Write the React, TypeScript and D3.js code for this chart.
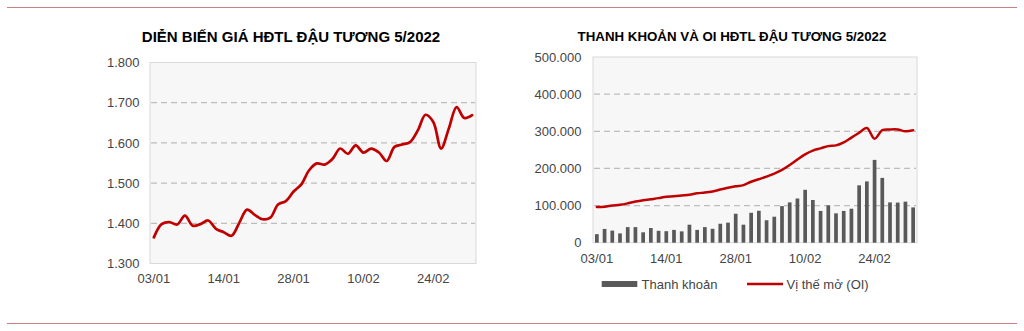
import React from "react";
import * as d3 from "d3";

const DATES = [
  "03/01","04/01","05/01","06/01","07/01","10/01","11/01","12/01","13/01","14/01",
  "18/01","19/01","20/01","21/01","24/01","25/01","26/01","27/01","28/01","31/01",
  "01/02","02/02","03/02","04/02","07/02","08/02","09/02","10/02","11/02","14/02",
  "15/02","16/02","17/02","18/02","22/02","23/02","24/02","25/02","28/02","01/03",
  "02/03","03/03",
];
const X_TICKS = ["03/01", "14/01", "28/01", "10/02", "24/02"];

const PRICE = [
  1365, 1398, 1403, 1397, 1419, 1394, 1398, 1407, 1386, 1378,
  1369, 1401, 1434, 1421, 1410, 1414, 1447, 1455, 1479, 1497,
  1532, 1549, 1546, 1560, 1586, 1573, 1594, 1576, 1586, 1576,
  1555, 1590, 1596, 1602, 1631, 1670, 1652, 1586, 1636, 1689,
  1662, 1669,
];
const PRICE_TICKS = [1300, 1400, 1500, 1600, 1700, 1800];

const VOLUME = [
  23000, 37000, 32600, 25000, 42000, 42000, 28000, 39500, 32000, 31000,
  34500, 30500, 48500, 34500, 42000, 37500, 51000, 54000, 78000, 48500,
  80500, 86000, 60500, 70000, 98500, 108500, 119000, 142500, 115000, 85500,
  100500, 79000, 85500, 91500, 154500, 165000, 223000, 174500, 108500, 108000,
  110500, 95000,
];
const OI = [
  96000, 97000, 100000, 102000, 106000, 111000, 114000, 117000, 120000, 124000,
  125000, 127000, 129000, 133000, 135000, 138000, 143000, 148000, 152000, 155000,
  164000, 171000, 178000, 186000, 196000, 209000, 224000, 238000, 248000, 254000,
  260000, 262000, 270000, 283000, 296000, 309000, 280000, 303000, 305000, 305000,
  300000, 303000,
];
const VOL_TICKS = [0, 100000, 200000, 300000, 400000, 500000];

const TITLE_LEFT = "DIỄN BIẾN GIÁ HĐTL ĐẬU TƯƠNG 5/2022";
const TITLE_RIGHT = "THANH KHOẢN VÀ OI HĐTL ĐẬU TƯƠNG 5/2022";
const LEGEND = ["Thanh khoản", "Vị thế mở (OI)"];

const FONT = "'Liberation Sans', Arial, sans-serif";
const RED = "#c00000";
const BAR = "#595959";
const TXT = "#454545";
const GRID = "#bdbdbd";
const RULE = "#c98080";

const vn = d3.formatLocale({ decimal: ",", thousands: ".", grouping: [3], currency: ["", ""] });
const fmt = vn.format(",d");

export default function App() {
  // Left chart
  const L = { x0: 150, x1: 476, y0: 62.5, y1: 263.5 };
  const lx = d3.scalePoint<string>().domain(DATES).range([L.x0, L.x1]).padding(0.5);
  const ly = d3.scaleLinear().domain([1300, 1800]).range([L.y1, L.y0]);
  const priceLine = d3
    .line<number>()
    .x((_, i) => lx(DATES[i]) as number)
    .y((d) => ly(d))
    .curve(d3.curveCatmullRom.alpha(0.5))(PRICE) as string;

  // Right chart
  const R = { x0: 593, x1: 917, y0: 57, y1: 242.7 };
  const rx = d3.scalePoint<string>().domain(DATES).range([R.x0, R.x1]).padding(0.5);
  const rb = d3.scaleBand<string>().domain(DATES).range([R.x0, R.x1]).paddingInner(0.52).paddingOuter(0.26);
  const ry = d3.scaleLinear().domain([0, 500000]).range([R.y1, R.y0]);
  const oiLine = d3
    .line<number>()
    .x((_, i) => rx(DATES[i]) as number)
    .y((d) => ry(d))
    .curve(d3.curveCatmullRom.alpha(0.5))(OI) as string;

  return (
    <svg
      width={1024}
      height={331}
      style={{ position: "absolute", left: 0, top: 0, background: "#fff" }}
      fontFamily={FONT}
    >
      <rect x={0} y={0} width={1024} height={331} fill="#fff" />
      <line x1={7} x2={1017} y1={7.5} y2={7.5} stroke={RULE} strokeWidth={1} />
      <line x1={7} x2={1017} y1={323.5} y2={323.5} stroke={RULE} strokeWidth={1} />

      {/* LEFT */}
      <text x={291} y={41.5} textAnchor="middle" fontSize={15} fontWeight="bold" fill="#000">
        {TITLE_LEFT}
      </text>
      <rect x={L.x0} y={L.y0} width={L.x1 - L.x0} height={L.y1 - L.y0} fill="#f7f7f7" stroke="#d9d9d9" strokeWidth={1} />
      {PRICE_TICKS.map((t) => (
        <g key={"lt" + t}>
          {t > 1300 && t < 1800 && (
            <line x1={L.x0 + 1} x2={L.x1 - 1} y1={ly(t)} y2={ly(t)} stroke={GRID} strokeWidth={1.3} strokeDasharray="6,4" />
          )}
          <text x={139.5} y={ly(t)} dy="0.36em" textAnchor="end" fontSize={13} fill={TXT}>
            {fmt(t)}
          </text>
        </g>
      ))}
      {X_TICKS.map((d) => (
        <text key={"lx" + d} x={lx(d)} y={283} textAnchor="middle" fontSize={13} fill={TXT}>
          {d}
        </text>
      ))}
      <path d={priceLine} fill="none" stroke={RED} strokeWidth={2.7} strokeLinejoin="round" strokeLinecap="round" />

      {/* RIGHT */}
      <text x={732} y={40.7} textAnchor="middle" fontSize={13.3} fontWeight="bold" fill="#000">
        {TITLE_RIGHT}
      </text>
      <rect x={R.x0} y={R.y0} width={R.x1 - R.x0} height={R.y1 - R.y0} fill="#f7f7f7" stroke="#d9d9d9" strokeWidth={1} />
      {VOL_TICKS.map((t) => (
        <g key={"rt" + t}>
          {t > 0 && t < 500000 && (
            <line x1={R.x0 + 1} x2={R.x1 - 1} y1={ry(t)} y2={ry(t)} stroke={GRID} strokeWidth={1.3} strokeDasharray="6,4" />
          )}
          <text x={581.5} y={ry(t)} dy="0.36em" textAnchor="end" fontSize={13} fill={TXT}>
            {fmt(t)}
          </text>
        </g>
      ))}
      {VOLUME.map((v, i) => (
        <rect key={"b" + i} x={rb(DATES[i])} y={ry(v)} width={rb.bandwidth()} height={ry(0) - ry(v)} fill={BAR} />
      ))}
      <path d={oiLine} fill="none" stroke={RED} strokeWidth={2.5} strokeLinejoin="round" strokeLinecap="round" />
      {X_TICKS.map((d) => (
        <text key={"rx" + d} x={rx(d)} y={262.5} textAnchor="middle" fontSize={13} fill={TXT}>
          {d}
        </text>
      ))}

      {/* Legend */}
      <rect x={601.7} y={281} width={35.6} height={6} fill={BAR} />
      <text x={641.5} y={288.8} fontSize={13} fill={TXT}>
        {LEGEND[0]}
      </text>
      <line x1={747} x2={783} y1={284} y2={284} stroke={RED} strokeWidth={2.5} />
      <text x={786.5} y={288.8} fontSize={13} fill={TXT}>
        {LEGEND[1]}
      </text>
    </svg>
  );
}
